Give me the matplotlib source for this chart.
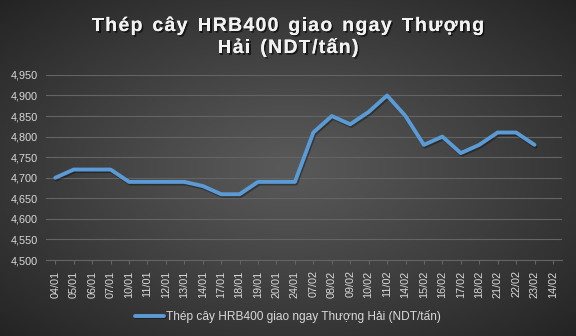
#!/usr/bin/env python3

#Line chart of spot HRB400 rebar price in Shanghai (NDT/tan)

###########################
####### PREPARATION #######
###########################

import numpy as np
import matplotlib
matplotlib.use("Agg")
import matplotlib.pyplot as plt
import matplotlib.patheffects as pe
from matplotlib.ticker import FuncFormatter

plt.rcParams["font.family"] = ["Liberation Sans", "DejaVu Sans"]

#Category labels (the last one has no value)
dates = [
    "04/01", "05/01", "06/01", "07/01", "10/01", "11/01", "12/01",
    "13/01", "14/01", "17/01", "18/01", "19/01", "20/01", "24/01",
    "07/02", "08/02", "09/02", "10/02", "11/02", "14/02", "15/02",
    "16/02", "17/02", "18/02", "21/02", "22/02", "23/02", "14/02"
]

#Price values
prices = [
    4700, 4720, 4720, 4720, 4690, 4690, 4690,
    4690, 4680, 4660, 4660, 4690, 4690, 4690,
    4810, 4850, 4830, 4860, 4900, 4850, 4780,
    4800, 4760, 4780, 4810, 4810, 4780
]

series_name = "Thép cây HRB400 giao ngay Thượng Hải (NDT/tấn)"
title_lines = ["Thép cây HRB400 giao ngay Thượng", "Hải (NDT/tấn)"]

y_ticks = list(range(4500, 4951, 50))

line_color = "#5B9BD5"
text_color = "#D9D9D9"
grid_color = "#646464"

###########################
######## BACKGROUND #######
###########################

fig = plt.figure(figsize=(5.76, 3.36), dpi=100)

#Radial gradient behind everything
bg_ax = fig.add_axes([0, 0, 1, 1], zorder=-10)
gx, gy = np.meshgrid(np.linspace(-1, 1, 576), np.linspace(-1, 1, 336))
radius = np.sqrt(gx ** 2 + gy ** 2) / np.sqrt(2)
bg_val = 0.35 - 0.21 * radius ** 1.1
bg_ax.imshow(np.dstack([bg_val, bg_val, bg_val]), aspect="auto",
             extent=[0, 1, 0, 1], interpolation="bilinear")
bg_ax.axis("off")

###########################
########### PLOT ##########
###########################

ax = fig.add_axes([0.08, 0.226, 0.896, 0.551])
ax.patch.set_alpha(0)

x_pos = np.arange(len(prices))
ax.plot(x_pos, prices, color=line_color, linewidth=2.8,
        solid_capstyle="round", solid_joinstyle="round",
        label=series_name, zorder=3,
        path_effects=[pe.SimpleLineShadow(offset=(0.8, -1.2), shadow_color="black", alpha=0.35),
                      pe.Normal()])

ax.set_xlim(-0.5, len(dates) - 0.5)
ax.set_ylim(4500, 4950)

ax.set_xticks(np.arange(len(dates)))
ax.set_xticklabels(dates, rotation=90, fontsize=7.8, color=text_color)
ax.set_yticks(y_ticks)
ax.yaxis.set_major_formatter(FuncFormatter(lambda v, p: f"{int(v):,}"))
ax.tick_params(axis="y", length=0, labelsize=7.8, labelcolor=text_color, pad=6)
ax.tick_params(axis="x", length=3, color=grid_color, pad=4.5)

ax.grid(axis="y", color=grid_color, linewidth=0.8)
ax.set_axisbelow(True)
for side in ["top", "right", "left"]:
    ax.spines[side].set_visible(False)
ax.spines["bottom"].set_color(grid_color)
ax.spines["bottom"].set_linewidth(0.8)

###########################
########## TITLE ##########
###########################

#Title is drawn char by char to get the wide letter spacing
renderer = fig.canvas.get_renderer()
title_style = dict(fontsize=14, fontweight="bold", color="#F2F2F2",
                   path_effects=[pe.withSimplePatchShadow(offset=(1.2, -1.2),
                                                          shadow_rgbFace="black", alpha=0.6),
                                 pe.Normal()])
tracking = 1.3
space_extra = 2.0
baselines = [336 - 31, 336 - 53]


def text_width(s):
    t = fig.text(0, 0, s, **title_style)
    w = t.get_window_extent(renderer).width
    t.remove()
    return w


for line, base in zip(title_lines, baselines):
    #Start position of every char inside the line
    starts = []
    for i, ch in enumerate(line):
        if ch == " ":
            starts.append(None)
            continue
        prefix_w = text_width(line[:i + 1])
        starts.append(prefix_w - text_width(ch))
    n_spaces = line.count(" ")
    total = text_width(line) + tracking * (len(line) - 1) + space_extra * n_spaces
    x0 = (576 - total) / 2
    spaces_seen = 0
    for i, ch in enumerate(line):
        if ch == " ":
            spaces_seen += 1
            continue
        px = x0 + starts[i] + tracking * i + space_extra * spaces_seen
        fig.text(px / 576, base / 336, ch, ha="left", va="baseline", **title_style)

###########################
########## LEGEND #########
###########################

leg = fig.legend(loc="center", bbox_to_anchor=(0.5, 0.058), frameon=False,
                 fontsize=8.6, handlelength=2.4, handletextpad=0.15)
for txt in leg.get_texts():
    txt.set_color(text_color)

plt.savefig("out.png", dpi=100)
plt.close()
